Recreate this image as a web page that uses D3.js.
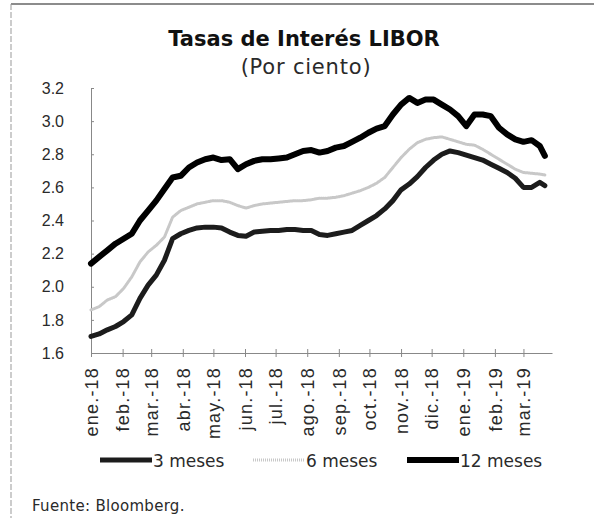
<!DOCTYPE html>
<html lang="es">
<head>
    <meta charset="UTF-8">
    <title>Tasas de Interés LIBOR</title>
    <script src="https://d3js.org/d3.v7.min.js"></script>
    <style>
        body {
            margin: 0;
            background: #fff;
            font-family: "DejaVu Sans", Arial, sans-serif;
        }
        svg {
            display: block;
        }
        .axis text {
            font-size: 16px;
            fill: #2a2a2a;
        }
        .axis path, .axis line {
            stroke: #888;
        }
    </style>
</head>
<body>
    <svg id="chart" width="594" height="518"></svg>

    <script>
        // Fechas (cada 8 días aprox.) y series en por ciento
        const dates = [
            "2018-01-01", "2018-01-09", "2018-01-17", "2018-01-25", "2018-02-02", "2018-02-10",
            "2018-02-18", "2018-02-26", "2018-03-06", "2018-03-14", "2018-03-22", "2018-03-30",
            "2018-04-07", "2018-04-15", "2018-04-23", "2018-05-01", "2018-05-09", "2018-05-17",
            "2018-05-25", "2018-06-02", "2018-06-10", "2018-06-18", "2018-06-26", "2018-07-04",
            "2018-07-12", "2018-07-20", "2018-07-28", "2018-08-05", "2018-08-13", "2018-08-21",
            "2018-08-29", "2018-09-06", "2018-09-14", "2018-09-22", "2018-09-30", "2018-10-08",
            "2018-10-16", "2018-10-24", "2018-11-01", "2018-11-09", "2018-11-17", "2018-11-25",
            "2018-12-03", "2018-12-11", "2018-12-19", "2018-12-27", "2019-01-04", "2019-01-12",
            "2019-01-20", "2019-01-28", "2019-02-05", "2019-02-13", "2019-02-21", "2019-03-01",
            "2019-03-09", "2019-03-17", "2019-03-22"
        ];

        const meses3 = [
            1.70, 1.715, 1.74, 1.76, 1.79, 1.83, 1.93, 2.01, 2.07, 2.16,
            2.29, 2.32, 2.34, 2.355, 2.36, 2.36, 2.355, 2.33, 2.31, 2.305,
            2.33, 2.335, 2.34, 2.34, 2.345, 2.345, 2.34, 2.34, 2.315, 2.31,
            2.32, 2.33, 2.34, 2.37, 2.40, 2.43, 2.47, 2.52, 2.585, 2.62,
            2.665, 2.72, 2.765, 2.80, 2.82, 2.81, 2.795, 2.78, 2.765, 2.74,
            2.715, 2.69, 2.655, 2.60, 2.60, 2.63, 2.61
        ];

        const meses6 = [
            1.86, 1.88, 1.92, 1.94, 1.99, 2.06, 2.15, 2.21, 2.25, 2.30,
            2.42, 2.46, 2.48, 2.50, 2.51, 2.52, 2.52, 2.51, 2.49, 2.475,
            2.49, 2.50, 2.505, 2.51, 2.515, 2.52, 2.52, 2.525, 2.535, 2.535,
            2.54, 2.55, 2.565, 2.58, 2.60, 2.625, 2.66, 2.72, 2.78, 2.83,
            2.87, 2.89, 2.90, 2.905, 2.89, 2.875, 2.86, 2.855, 2.83, 2.80,
            2.77, 2.74, 2.71, 2.69, 2.685, 2.68, 2.675
        ];

        const meses12 = [
            2.14, 2.18, 2.22, 2.26, 2.29, 2.32, 2.40, 2.46, 2.52, 2.59,
            2.66, 2.67, 2.72, 2.75, 2.77, 2.78, 2.765, 2.77, 2.71, 2.74,
            2.76, 2.77, 2.77, 2.775, 2.78, 2.80, 2.82, 2.825, 2.81, 2.82,
            2.84, 2.85, 2.875, 2.90, 2.93, 2.955, 2.97, 3.04, 3.10, 3.14,
            3.11, 3.13, 3.13, 3.10, 3.07, 3.03, 2.97, 3.04, 3.04, 3.03,
            2.96, 2.92, 2.89, 2.875, 2.885, 2.85, 2.79
        ];

        const yTicks = [1.6, 1.8, 2.0, 2.2, 2.4, 2.6, 2.8, 3.0, 3.2];
        const monthLabels = [
            "ene.-18", "feb.-18", "mar.-18", "abr.-18", "may.-18", "jun.-18", "jul.-18",
            "ago.-18", "sep.-18", "oct.-18", "nov.-18", "dic.-18", "ene.-19", "feb.-19", "mar.-19"
        ];

        const parseDate = d3.timeParse("%Y-%m-%d");

        const series = [
            { name: "3 meses", values: meses3, color: "#1c1c1c", width: 5, dash: null },
            { name: "6 meses", values: meses6, color: "#c8c8c8", width: 3, dash: "1 1" },
            { name: "12 meses", values: meses12, color: "#000", width: 6, dash: null }
        ];

        const margin = { top: 88, left: 91 },
              width = 461,
              height = 265;

        const svg = d3.select("#chart");

        // Marco (arriba e izquierda)
        svg.append("line")
           .attr("x1", 11).attr("y1", 4).attr("x2", 594).attr("y2", 4)
           .attr("stroke", "#666").attr("stroke-width", 1.5);
        svg.append("line")
           .attr("x1", 11).attr("y1", 4).attr("x2", 11).attr("y2", 518)
           .attr("stroke", "#999").attr("stroke-width", 1)
           .attr("stroke-dasharray", "6 2");

        // Títulos
        svg.append("text")
           .attr("x", 304).attr("y", 46)
           .attr("text-anchor", "middle")
           .style("font-size", "21px")
           .style("font-weight", "bold")
           .attr("fill", "#111")
           .text("Tasas de Interés LIBOR");

        svg.append("text")
           .attr("x", 306).attr("y", 74)
           .attr("text-anchor", "middle")
           .style("font-size", "21px")
           .style("letter-spacing", "0.8px")
           .attr("fill", "#2a2a2a")
           .text("(Por ciento)");

        const g = svg.append("g")
                     .attr("transform", `translate(${margin.left},${margin.top})`);

        const x = d3.scaleTime()
                    .domain([new Date(2018, 0, 1), new Date(2019, 2, 29)])
                    .range([0, width]);

        const y = d3.scaleLinear()
                    .domain([1.6, 3.2])
                    .range([height, 0]);

        // Eje Y
        const yAxis = g.append("g")
           .attr("class", "axis")
           .call(d3.axisRight(y).tickValues(yTicks).tickSize(3).tickFormat(d3.format(".1f")));
        yAxis.selectAll("text")
             .attr("x", -27)
             .style("text-anchor", "end");

        // Eje X
        const months = d3.timeMonth.range(new Date(2018, 0, 1), new Date(2019, 2, 2));
        const xAxis = g.append("g")
           .attr("class", "axis")
           .attr("transform", `translate(0,${height})`)
           .call(d3.axisBottom(x).tickValues(months).tickSizeInner(4).tickSizeOuter(0)
                   .tickFormat((d, i) => monthLabels[i]));
        xAxis.selectAll(".tick line").attr("y1", -4);
        xAxis.selectAll("text")
             .attr("transform", "rotate(-90)")
             .attr("x", -14)
             .attr("y", 0)
             .attr("dy", "0.35em")
             .style("font-size", "18px")
             .style("letter-spacing", "1.2px")
             .style("text-anchor", "end");

        // Líneas
        const line = d3.line()
                       .x((d, i) => x(parseDate(dates[i])))
                       .y(d => y(d));

        [series[1], series[0], series[2]].forEach(s => {
            g.append("path")
             .datum(s.values)
             .attr("fill", "none")
             .attr("stroke", s.color)
             .attr("stroke-width", s.width)
             .attr("stroke-linejoin", "round")
             .attr("stroke-linecap", "round")
             .attr("stroke-dasharray", s.dash)
             .attr("d", line);
        });

        // Leyenda
        const legendY = 460;
        const legendX = [100, 253, 407];
        series.forEach((s, i) => {
            const lg = svg.append("g").attr("transform", `translate(${legendX[i]},${legendY})`);
            lg.append("line")
              .attr("x1", 0).attr("x2", 52)
              .attr("stroke", s.color)
              .attr("stroke-width", s.width)
              .attr("stroke-dasharray", s.dash);
            lg.append("text")
              .attr("x", 53)
              .attr("y", 7)
              .style("font-size", "17px")
              .attr("fill", "#2a2a2a")
              .text(s.name);
        });

        // Fuente
        svg.append("text")
           .attr("x", 32).attr("y", 511)
           .style("font-size", "15px")
           .style("letter-spacing", "0.3px")
           .attr("fill", "#2a2a2a")
           .text("Fuente: Bloomberg.");
    </script>
</body>
</html>
